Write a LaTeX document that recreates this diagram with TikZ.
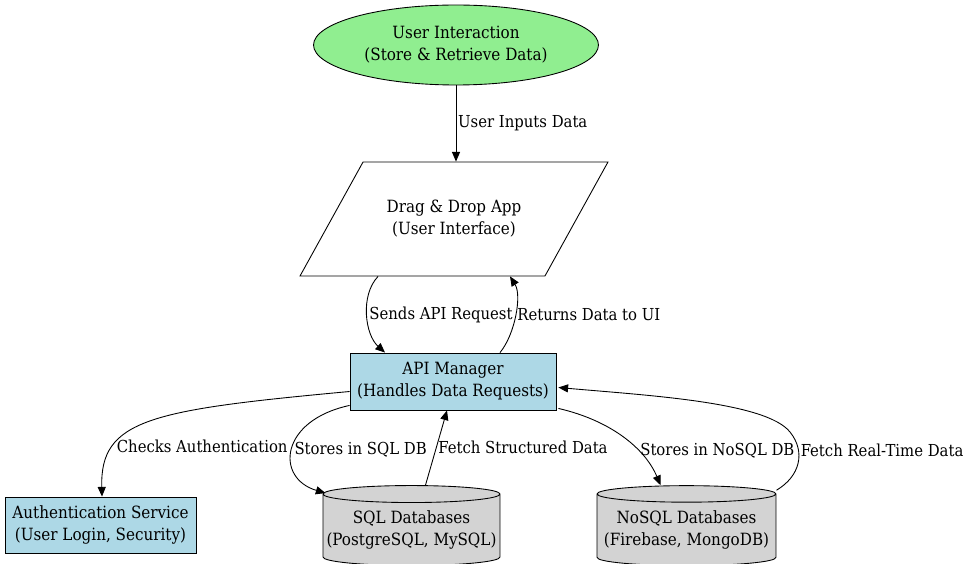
\documentclass[tikz,border=0pt]{standalone}
\usepackage{fontspec}
\setmainfont{DejaVu Serif Condensed}
\usetikzlibrary{shapes.geometric,arrows.meta,calc}
\definecolor{uigreen}{HTML}{90EE90}
\definecolor{apiblue}{HTML}{ADD8E6}
\definecolor{dbgray}{HTML}{D3D3D3}
\tikzset{
  box/.style={draw, line width=0.5pt, align=center, font=\fontsize{9.6}{12.5}\selectfont, inner sep=0pt},
  lbl/.style={font=\fontsize{9.4}{12}\selectfont, anchor=west, inner sep=1pt},
  arr/.style={-{Triangle[length=5.5pt,width=4.6pt]}, line width=0.5pt},
  db/.style={box, cylinder, shape border rotate=90, shape aspect=0.1, fill=dbgray, minimum width=3.54cm, minimum height=1.6cm}
}
\begin{document}
\begin{tikzpicture}[x=0.02cm, y=-0.02cm]
\useasboundingbox (0,0) rectangle (967,564);
% the nodes
\node[box, ellipse, fill=uigreen, minimum width=5.7cm, minimum height=1.6cm] (ui) at (456,45) {User Interaction\\(Store \& Retrieve Data)};
\node[box, trapezium, trapezium left angle=30.5, trapezium right angle=149.5, trapezium stretches body=true, minimum width=6.16cm, minimum height=2.28cm] (app) at (454,219) {Drag \& Drop App\\(User Interface)};
\node[box, fill=apiblue, minimum width=4.12cm, minimum height=1.14cm] (api) at (453,381.5) {API Manager\\(Handles Data Requests)};
\node[box, fill=apiblue, minimum width=3.82cm, minimum height=1.12cm] (auth) at (100.5,525) {Authentication Service\\(User Login, Security)};
\node[db] (sql) at (411.5,530) {SQL Databases\\(PostgreSQL, MySQL)};
\node[db, minimum width=3.58cm] (nosql) at (686.5,530) {NoSQL Databases\\(Firebase, MongoDB)};
\coordinate (rtbend) at (790,432);
% the connectors
\draw[arr] (ui.south) -- (ui.south |- app.north) node[lbl, midway] {User Inputs Data};
\draw[arr] ($(app.south)+(-76,0)$) .. controls +(-18,19) and +(-20,-18) .. ($(api.north)+(-68,0)$) node[lbl, pos=0.5] {Sends API Request};
\draw[arr] ($(api.north)+(47,0)$) .. controls +(15,-18) and +(12,19) .. ($(app.south)+(56,0)$) node[lbl, pos=0.5] {Returns Data to UI};
\draw[arr] ($(api.west)+(0,10)$) .. controls +(-200,18.5) and +(-2,-77) .. ($(auth.north)+(1.5,0)$) node[lbl, pos=0.72] {Checks Authentication};
\draw[arr] ($(api.south west)+(0,-5)$) .. controls +(-70,15) and +(-50.5,-15) .. ($(sql.north)+(-86,8)$) node[lbl, pos=0.5] {Stores in SQL DB};
\draw[arr] ($(sql.north)+(14,0)$) -- ($(api.south)+(-6,0)$) node[lbl, midway] {Fetch Structured Data};
\draw[arr] ($(api.south east)+(2,-2)$) .. controls +(52,12) and +(-15.5,-37) .. ($(nosql.north)+(-26,0)$) node[lbl, pos=0.66] {Stores in NoSQL DB};
\draw[arr] ($(nosql.north)+(90,5)$) .. controls +(23.5,-14) and +(16,20) .. (rtbend) node[lbl, pos=0.7] {Fetch Real-Time Data}
  .. controls +(-24,-30) and +(90,8) .. ($(api.east)+(2,6)$);
\end{tikzpicture}
\end{document}
